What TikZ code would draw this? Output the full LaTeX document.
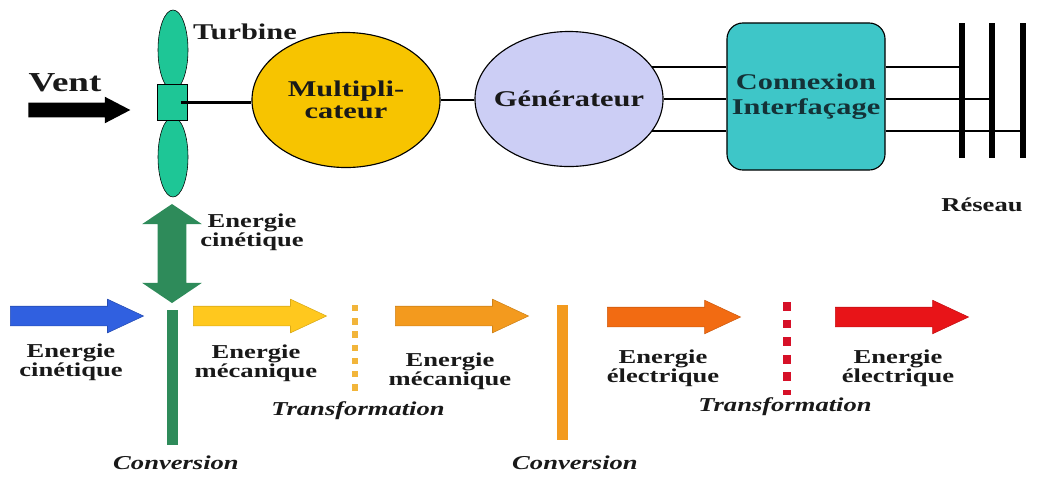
\documentclass[tikz,border=0pt]{standalone}
\usepackage{fontspec}
\setmainfont[FakeStretch=1.35]{Liberation Serif}
\usetikzlibrary{shapes.geometric, shapes.arrows}

\definecolor{bladegreen}{RGB}{30,198,150}
\definecolor{gearyellow}{RGB}{247,196,0}
\definecolor{genlilac}{RGB}{204,206,245}
\definecolor{boxcyan}{RGB}{62,198,200}
\definecolor{convgreen}{RGB}{46,139,90}
\definecolor{flowblue}{RGB}{48,96,224}
\definecolor{flowyellow}{RGB}{255,200,30}
\definecolor{floworange}{RGB}{243,154,30}
\definecolor{flowred1}{RGB}{242,107,18}
\definecolor{flowred2}{RGB}{232,20,24}
\definecolor{dotyellow}{RGB}{242,181,58}
\definecolor{dotred}{RGB}{214,16,40}
\definecolor{inktext}{RGB}{25,25,25}

\begin{document}
\begin{tikzpicture}[
    % GLOBAL CFG (one unit = one pixel of the sketch)
    x=0.025cm, y=-0.025cm,
    font=\bfseries\fontsize{14}{12}\selectfont,
    text=inktext,
    % Styles
    blade/.style={% For the rotor blades
        ellipse,
        draw,
        fill=bladegreen,
        minimum width=0.75cm,
        minimum height=2cm,
        inner sep=0pt,
        },
    hubbox/.style={% For the hub
        rectangle,
        draw,
        fill=bladegreen,
        minimum width=0.75cm,
        minimum height=0.9cm,
        },
    machine/.style={% For multiplier and generator
        ellipse,
        draw,
        thick,
        inner sep=0pt,
        minimum width=4.7cm,
        minimum height=3.375cm,
        },
    machtext/.style={% text inside the machines
        align=center,
        font=\bfseries\fontsize{16}{15.5}\selectfont,
        },
    busbar/.style={% For the grid bars
        rectangle,
        fill=black,
        minimum width=0.15cm,
        minimum height=3.375cm,
        inner sep=0pt,
        },
    flow/.style={% Energy arrows
        single arrow,
        anchor=tail,
        inner sep=0.2375cm,
        minimum height=3.33cm,
        single arrow head extend=0.175cm,
        single arrow tip angle=50,
        },
    convbar/.style={% Conversion bars
        rectangle,
        inner sep=0pt,
        minimum width=0.26cm,
        minimum height=3.375cm,
        },
    mylabel/.style={% two line labels
        align=center,
        },
    steplabel/.style={% Conversion, Transformation
        font=\bfseries\itshape\fontsize{14}{12}\selectfont,
        },
    wire/.style={% connecting lines
        line width=1.4pt,
        },
    ]

%Start drawing the thing...
    % Wind
    \node (vent) at (65,83) {\fontsize{19.5}{19}\selectfont Vent};
    \node [single arrow, anchor=tail, fill=black, inner sep=0.175cm, minimum height=2.55cm,
        single arrow head extend=0.15cm,
        single arrow tip angle=55] (ventarrow) at (28,110) {};

    % Turbine: blades and hub
    \node [blade] (blade1) at (173,50) {};
    \node [blade] (blade2) at (173,157) {};
    \node [hubbox] (hub) at (172.5,102.5) {};
    \node [font=\bfseries\fontsize{16}{15}\selectfont] (turb) at (245,32) {Turbine};

    % Machines
    \node [machine, fill=gearyellow] (mult) at (346,100) {};
    \node [machtext] (multtxt) at (mult) {Multipli-\\cateur};
    \node [machine, fill=genlilac] (gen) at (569,99) {};
    \node [machtext] (gentxt) at (gen) {G\'en\'erateur};
    \node [rectangle, draw, thick, fill=boxcyan, rounded corners=0.4cm,
        minimum width=3.95cm, minimum height=3.675cm, align=center,
        font=\bfseries\fontsize{16}{17.5}\selectfont,
        text={rgb,255:red,20;green,50;blue,55}] (con) at (806,96.5) {Connexion\\Interfa\c{c}age};

    % Grid
    \node [busbar] (bus1) at (962,90.5) {};
    \node [busbar] (bus2) at (992,90.5) {};
    \node [busbar] (bus3) at (1023,90.5) {};
    \node (res) at (982,205) {R\'eseau};

% Start connecting all.
    \draw [wire, line width=1.8pt] ([xshift=-0.18cm]hub.east) -- (hub.east -| mult.west);
    \draw [wire, line width=1.8pt] (mult.east) -- (mult.east -| gen.west);
    \draw [wire] (gen.21) -- (gen.21 -| con.west);
    \draw [wire] (gen.0) -- (gen.0 -| con.west);
    \draw [wire] (gen.-21) -- (gen.-21 -| con.west);
    \draw [wire] (con.east |- gen.21) -- (gen.21 -| bus1);
    \draw [wire] (con.east |- gen.0) -- (gen.0 -| bus2);
    \draw [wire] (con.east |- gen.-21) -- (gen.-21 -| bus3);

    % Energy chain
    \node [double arrow, shape border rotate=90, fill=convgreen, inner sep=0.35cm,
        minimum height=2.475cm,
        double arrow head extend=0.39cm, double arrow tip angle=112] (kin) at (172,253.5) {};
    \node [mylabel] (kinlab) at (252,232) {Energie\\cin\'etique};

    \node [flow, fill=flowblue, draw=flowblue!80!black] (flow1) at (10,316) {};
    \node [flow, fill=flowyellow, draw=flowyellow!85!black] (flow2) at (193,316) {};
    \node [flow, fill=floworange, draw=floworange!85!black] (flow3) at (395,316) {};
    \node [flow, fill=flowred1, draw=flowred1!85!black] (flow4) at (607,317) {};
    \node [flow, fill=flowred2, draw=flowred2!85!black] (flow5) at (835,317) {};

    \node [mylabel] (lab1) at (71,362) {Energie\\cin\'etique};
    \node [mylabel] (lab2) at (256,363) {Energie\\m\'ecanique};
    \node [mylabel] (lab3) at (450,371) {Energie\\m\'ecanique};
    \node [mylabel] (lab4) at (663,368) {Energie\\\'electrique};
    \node [mylabel] (lab5) at (898,368) {Energie\\\'electrique};

    % Conversions and transformations
    \node [convbar, fill=convgreen] (conv1) at (172.5,377.5) {};
    \node [convbar, fill=floworange] (conv2) at (562.5,372.5) {};
    \node [steplabel] (convlab1) at (176,463) {Conversion};
    \node [steplabel] (convlab2) at (575,463) {Conversion};

    \coordinate (tr1a) at (355,305);
    \coordinate (tr1b) at (355,397);
    \coordinate (tr2a) at (787,302);
    \coordinate (tr2b) at (787,395);
    \draw [dotyellow, line width=0.17cm, dash pattern=on 0.16cm off 0.17cm] (tr1a) -- (tr1b);
    \draw [dotred, line width=0.22cm, dash pattern=on 0.22cm off 0.22cm] (tr2a) -- (tr2b);
    \node [steplabel] (trlab1) at (358,411) {Transformation};
    \node [steplabel] (trlab2) at (785,407) {Transformation};

    \useasboundingbox (0,0) rectangle (1043,476);
\end{tikzpicture}
\end{document}
